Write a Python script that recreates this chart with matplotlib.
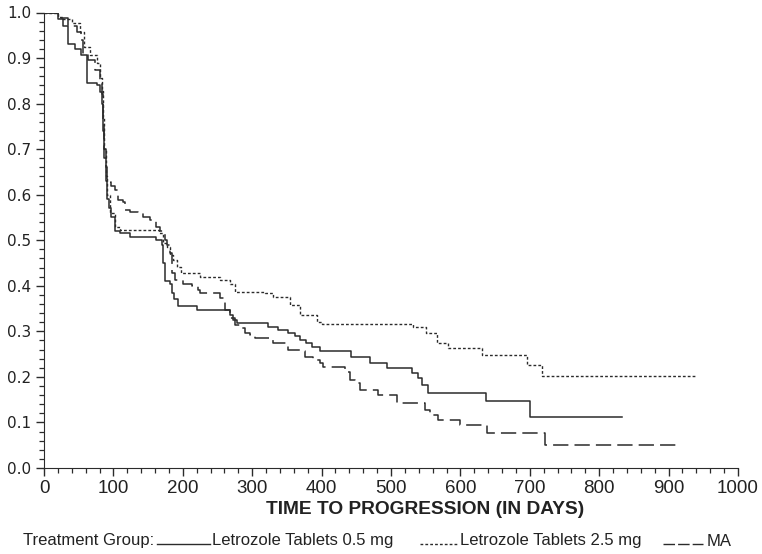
import matplotlib
matplotlib.use('Agg')
import matplotlib.pyplot as plt
from matplotlib.lines import Line2D
from matplotlib.ticker import MultipleLocator, FormatStrFormatter

plt.rcParams['font.family'] = ['Liberation Sans', 'DejaVu Sans']

# Kaplan-Meier curves: (day, survival after step)
let05_days = [0, 20, 27, 35, 45, 54, 62, 76, 81, 83, 85, 87, 89, 91, 94, 97, 102, 109, 124,
              162, 170, 172, 175, 181, 184, 187, 193, 220, 268, 273, 278, 323, 337, 352,
              362, 369, 378, 386, 398, 443, 470, 494, 530, 539, 544, 553, 637, 700, 833]
let05_surv = [1.0, 0.985, 0.97, 0.93, 0.92, 0.907, 0.845, 0.84, 0.825, 0.80, 0.74, 0.68, 0.63,
              0.59, 0.57, 0.55, 0.52, 0.515, 0.507, 0.50, 0.49, 0.45, 0.41, 0.405, 0.385, 0.37,
              0.355, 0.347, 0.335, 0.325, 0.318, 0.31, 0.303, 0.297, 0.29, 0.281, 0.274, 0.266,
              0.257, 0.244, 0.23, 0.22, 0.208, 0.197, 0.182, 0.165, 0.148, 0.113, 0.113]

let25_days = [0, 20, 28, 40, 52, 57, 66, 76, 81, 83, 85, 87, 89, 91, 95, 102, 109, 165, 172,
              177, 181, 186, 191, 198, 225, 254, 268, 275, 318, 330, 354, 369, 393, 400, 532,
              551, 566, 582, 631, 696, 717, 938]
let25_surv = [1.0, 0.99, 0.985, 0.977, 0.957, 0.925, 0.907, 0.89, 0.857, 0.828, 0.77, 0.70,
              0.64, 0.60, 0.56, 0.53, 0.522, 0.515, 0.494, 0.485, 0.468, 0.457, 0.442, 0.428,
              0.42, 0.413, 0.405, 0.386, 0.384, 0.375, 0.357, 0.336, 0.32, 0.316, 0.31, 0.296,
              0.274, 0.263, 0.248, 0.226, 0.202, 0.202]

ma_days = [0, 20, 23, 35, 47, 54, 56, 64, 73, 81, 83, 85, 87, 89, 91, 97, 102, 107, 114, 117,
           124, 135, 143, 153, 162, 167, 174, 177, 181, 184, 189, 200, 213, 222, 225, 254, 261,
           268, 275, 282, 290, 297, 304, 330, 350, 352, 373, 376, 388, 398, 402, 434, 441, 448,
           455, 481, 508, 549, 556, 568, 599, 639, 722, 916]
ma_surv = [1.0, 0.995, 0.988, 0.97, 0.957, 0.94, 0.907, 0.896, 0.874, 0.847, 0.82, 0.76, 0.70,
           0.66, 0.628, 0.62, 0.61, 0.588, 0.584, 0.566, 0.562, 0.56, 0.552, 0.545, 0.53, 0.52,
           0.50, 0.49, 0.472, 0.428, 0.413, 0.405, 0.40, 0.39, 0.384, 0.373, 0.347, 0.33, 0.314,
           0.307, 0.296, 0.292, 0.285, 0.274, 0.267, 0.259, 0.257, 0.244, 0.237, 0.23, 0.222,
           0.211, 0.193, 0.187, 0.171, 0.16, 0.143, 0.127, 0.116, 0.105, 0.094, 0.077, 0.05, 0.05]

group_labels = ['Letrozole Tablets 0.5 mg', 'Letrozole Tablets 2.5 mg', 'MA']

col = '#2b2b2b'
tcol = '#222222'
dotted = (0, (2, 1.5))
dashed = (0, (10, 4))

fig = plt.figure(figsize=(7.62, 5.54), dpi=100)
ax = fig.add_axes([44 / 762, 1 - 468 / 554, 694 / 762, 455.5 / 554])

ax.step(let05_days, let05_surv, where='post', color=col, lw=1.1, linestyle='-')
ax.step(let25_days, let25_surv, where='post', color=col, lw=1.0, linestyle=dotted)
ax.step(ma_days, ma_surv, where='post', color=col, lw=1.1, linestyle=dashed)

ax.set_xlim(0, 1000)
ax.set_ylim(0, 1.0)
ax.spines['top'].set_visible(False)
ax.spines['right'].set_visible(False)
ax.spines['left'].set_color(col)
ax.spines['bottom'].set_color(col)
ax.xaxis.set_major_locator(MultipleLocator(100))
ax.xaxis.set_minor_locator(MultipleLocator(20))
ax.yaxis.set_major_locator(MultipleLocator(0.1))
ax.yaxis.set_minor_locator(MultipleLocator(0.02))
ax.tick_params(which='major', length=6, width=1, color=col, labelcolor=tcol)
ax.tick_params(which='minor', length=3.5, width=0.9, color=col)
ax.tick_params(axis='x', pad=2.5)
ax.tick_params(axis='y', pad=3)
ax.yaxis.set_major_formatter(FormatStrFormatter('%.1f'))
for t in ax.get_xticklabels():
    t.set_fontsize(13.5)
for t in ax.get_yticklabels():
    t.set_fontfamily('DejaVu Sans')
    t.set_fontsize(11)

fig.text(425 / 762, 1 - 509 / 554, 'TIME TO PROGRESSION (IN DAYS)', ha='center', va='center',
         fontsize=13.8, fontweight='bold', color=tcol)

# legend row at the bottom
ly = 1 - 541 / 554
lly = 1 - 544 / 554
fig.text(23 / 762, ly, 'Treatment Group:', ha='left', va='center', fontsize=12, color=tcol)
styles = ['-', dotted, (0, (8.3, 2.2))]
seg = [(157, 210), (420, 458), (663, 703)]
txt_x = [212, 460, 707]
for lab, st, (x0, x1), tx in zip(group_labels, styles, seg, txt_x):
    fig.add_artist(Line2D([x0 / 762, x1 / 762], [lly, lly], transform=fig.transFigure,
                          color=col, lw=1.0, linestyle=st))
    fig.text(tx / 762, ly, lab, ha='left', va='center', fontsize=12, color=tcol)

fig.savefig('out.png', dpi=100)
